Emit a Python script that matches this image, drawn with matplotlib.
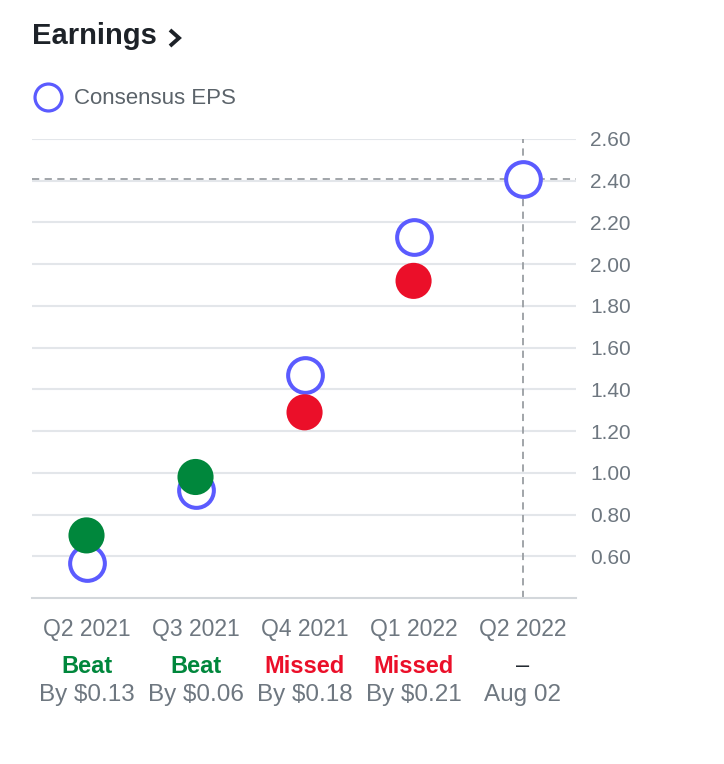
import numpy as np
import matplotlib
matplotlib.use("Agg")
import matplotlib.pyplot as plt
from matplotlib.lines import Line2D

plt.rcParams['font.family'] = ['Liberation Sans', 'DejaVu Sans']

# data
quarters = ["Q2 2021", "Q3 2021", "Q4 2021", "Q1 2022", "Q2 2022"]
consensus = [0.57, 0.92, 1.47, 2.13, 2.41]
actual = [0.70, 0.98, 1.29, 1.92]
results = ["Beat", "Beat", "Missed", "Missed", "\u2013"]
details = ["By $0.13", "By $0.06", "By $0.18", "By $0.21", "Aug 02"]
yticks = [0.60, 0.80, 1.00, 1.20, 1.40, 1.60, 1.80, 2.00, 2.20, 2.40, 2.60]

BLUE = "#5b5bff"
GREEN = "#00873c"
RED = "#eb0f29"
GREY_TXT = "#6e7780"
GRID = "#e3e6ea"

W, H = 724, 764
fig = plt.figure(figsize=(W / 100, H / 100), dpi=100)
ax = fig.add_axes([32 / W, 1 - 598 / H, (576 - 32) / W, (598 - 139) / H])

x = np.arange(len(quarters))
ax.set_xlim(-0.5, 4.49)
ax.set_ylim(0.40, 2.60)

ax.set_yticks(yticks)
ax.set_yticklabels(["%.2f" % v for v in yticks])
ax.yaxis.tick_right()
ax.tick_params(axis='y', length=0, pad=10, labelsize=15, colors=GREY_TXT)
ax.set_xticks([])
ax.grid(axis='y', color=GRID, linewidth=1.5)
ax.set_axisbelow(True)
for s in ["top", "left", "right"]:
    ax.spines[s].set_visible(False)
ax.spines["bottom"].set_color("#d3d7db")
ax.spines["bottom"].set_linewidth(1.5)

# dashed markers for upcoming quarter
ax.axhline(consensus[-1], color="#9a9ea3", linewidth=1.3, linestyle=(0, (4, 3)), zorder=2)
ax.axvline(x[-1], color="#9a9ea3", linewidth=1.3, linestyle=(0, (4, 3)), zorder=2)

ax.plot(x, consensus, linestyle='none', marker='o', markersize=25,
        markerfacecolor='white', markeredgecolor=BLUE, markeredgewidth=2.9,
        zorder=3, clip_on=False)
act_colors = [GREEN if r == "Beat" else RED for r in results[:len(actual)]]
ax.scatter(x[:len(actual)], actual, s=26 ** 2, c=act_colors, linewidths=0,
           zorder=4, clip_on=False)

# bottom labels
for i in range(len(quarters)):
    ax.annotate(quarters[i], (x[i], 0), xycoords=('data', 'axes fraction'),
                xytext=(0, -23), textcoords='offset points', ha='center', va='center',
                fontsize=16.5, color=GREY_TXT, annotation_clip=False)
    if results[i] == "Beat":
        c = GREEN
        fw = 'bold'
    elif results[i] == "Missed":
        c = RED
        fw = 'bold'
    else:
        c = "#232a31"
        fw = 'normal'
    ax.annotate(results[i], (x[i], 0), xycoords=('data', 'axes fraction'),
                xytext=(0, -49), textcoords='offset points', ha='center', va='center',
                fontsize=17, color=c, fontweight=fw, annotation_clip=False)
    ax.annotate(details[i], (x[i], 0), xycoords=('data', 'axes fraction'),
                xytext=(0, -69.5), textcoords='offset points', ha='center', va='center',
                fontsize=17.5, color=GREY_TXT, annotation_clip=False)

# title + chevron
fig.text(32 / W, 1 - 36 / H, "Earnings", fontsize=21, fontweight='bold',
         color="#1d2228", ha='left', va='center')
fig.add_artist(Line2D([170 / W, 179 / W, 170 / W], [1 - 30 / H, 1 - 38 / H, 1 - 46 / H],
                      transform=fig.transFigure, color="#1d2228", linewidth=2.8,
                      solid_capstyle='butt', solid_joinstyle='miter'))

# legend
fig.add_artist(Line2D([48 / W], [1 - 97 / H], transform=fig.transFigure, marker='o',
                      markersize=19.4, markerfacecolor='white', markeredgecolor=BLUE,
                      markeredgewidth=2.3, linestyle='none'))
fig.text(74 / W, 1 - 98 / H, "Consensus EPS", fontsize=16, color="#5b636a",
         ha='left', va='center')

fig.savefig("out.png", dpi=100, facecolor='white')
